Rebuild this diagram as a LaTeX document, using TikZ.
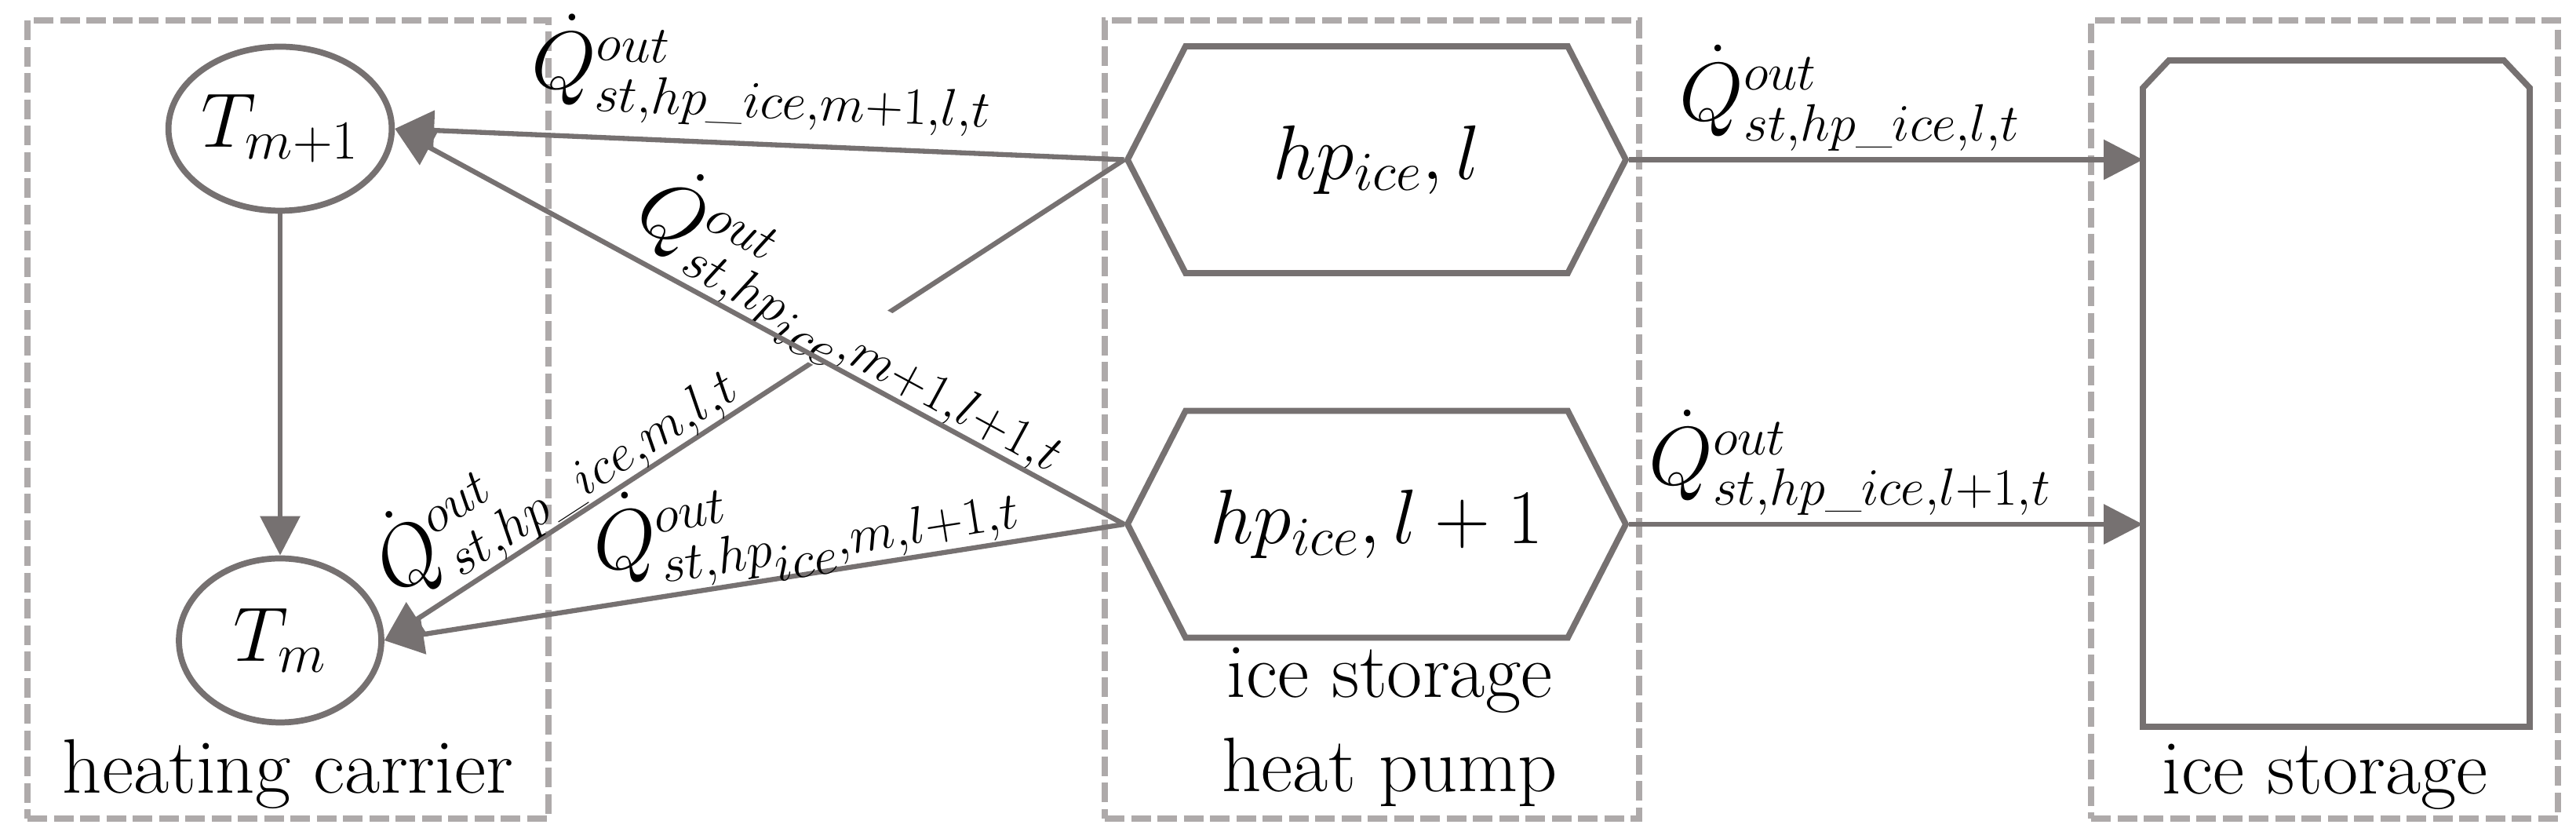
\documentclass[tikz,border=0pt]{standalone}
\usepackage{fix-cm}
\usepackage{amsmath}
\usetikzlibrary{positioning,shapes.geometric,shapes.symbols,arrows.meta}
\definecolor{linegray}{HTML}{767171}
\definecolor{boxgray}{HTML}{AEAAAA}
\DeclareMathSizes{28}{28}{20}{14}
\DeclareMathSizes{30}{30}{19}{19}
\newcommand{\us}{\text{\_}}
\begin{document}
\begin{tikzpicture}[->, >={Triangle[length=0.5cm, width=0.5cm]}, every node/.style={font=\fontsize{28}{34.4}\selectfont}]
    \tikzset{var/.style={draw=linegray, ellipse, line width=2.2pt, minimum width=2.58cm, minimum height=2.09cm, inner sep=0pt},
      hp/.style={draw=linegray, signal, signal to=east and west, signal pointer angle=125.8, line width=2.2pt, minimum width=6.35cm, minimum height=2.89cm, inner sep=0pt},
      group/.style={draw=boxgray, dash pattern=on 0.25cm off 0.085cm, line width=2.4pt, minimum height=10.17cm},
      tank/.style={draw=linegray, line width=2.2pt, -},
      lbl/.style={font=\fontsize{30}{36}\selectfont, sloped, inner sep=0.05cm},
      every edge/.style={draw=linegray, line width=1.8pt}};
    \useasboundingbox (0,0) rectangle (32.83,10.69);
    % dashed groups
    \node[group, minimum width=6.64cm] (gHeat) at (3.67,5.345) {};
    \node[group, minimum width=6.81cm] (gPump) at (17.485,5.345) {};
    \node[group, minimum width=5.95cm] (gIce) at (29.625,5.345) {};
    \node[anchor=base] (tHeat) at (3.67,0.58) {heating carrier};
    \node[anchor=base, align=center] (tPump) at (17.71,0.60) {ice storage\\heat pump};
    \node[anchor=base] (tIce) at (29.63,0.57) {ice storage};
    % nodes
    \node[var] (sT1) at (3.57,9.05) {$T_{m+1}$};
    \node[var, below of=sT1, node distance=6.52cm] (sT0) {$T_m$};
    \node[hp] (sHpA) at (17.545,8.655) {$hp_{ice}, l$};
    \node[hp, below of=sHpA, node distance=4.645cm] (sHpB) {$hp_{ice}, l+1$};
    \node[minimum width=4.93cm, minimum height=8.49cm, outer sep=0pt] (sIce) at (29.775,5.675) {};
    \draw[tank] ([yshift=-0.35cm]sIce.north west) -- ([xshift=0.33cm]sIce.north west)
      -- ([xshift=-0.33cm]sIce.north east) -- ([yshift=-0.35cm]sIce.north east)
      -- (sIce.south east) -- (sIce.south west) -- cycle;
    {
      \path
        (sT1) edge (sT0)
        (sHpA.west) edge (sT1.east)
        (sHpA.west) edge (sT0.east)
        ;
      % label box hides the crossing line
      \path (sHpB.west) -- node[lbl, fill=white, above=-0.11cm, pos=0.4, inner sep=0.02cm, text height=0.55cm] {$\dot{Q}^{out}_{st,hp_{ice},m+1,l+1,t}$} (sT1.east);
      \path (sHpB.west) edge (sT1.east);
      \path (sHpA.west) -- node[lbl, above=0.15cm, pos=0.5] {$\dot{Q}^{out}_{st,hp\us ice,m+1,l,t}$} (sT1.east);
      \path (sHpA.west) -- node[lbl, above=-0.05cm, pos=0.735] {$\dot{Q}^{out}_{st,hp\us ice,m,l,t}$} (sT0.east);
      \path
        (sHpB.west) edge node[lbl, above=-0.12cm, pos=0.42] {$\dot{Q}^{out}_{st,hp_{ice},m,l+1,t}$} (sT0.east)
        (sHpA.east) edge node[lbl, above=0.03cm, pos=0.43] {$\dot{Q}^{out}_{st,hp\us ice,l,t}$} (sHpA.east -| sIce.west)
        (sHpB.east) edge node[lbl, above=0.03cm, pos=0.43] {$\dot{Q}^{out}_{st,hp\us ice,l+1,t}$} (sHpB.east -| sIce.west)
        ;
      }
\end{tikzpicture}
\end{document}
